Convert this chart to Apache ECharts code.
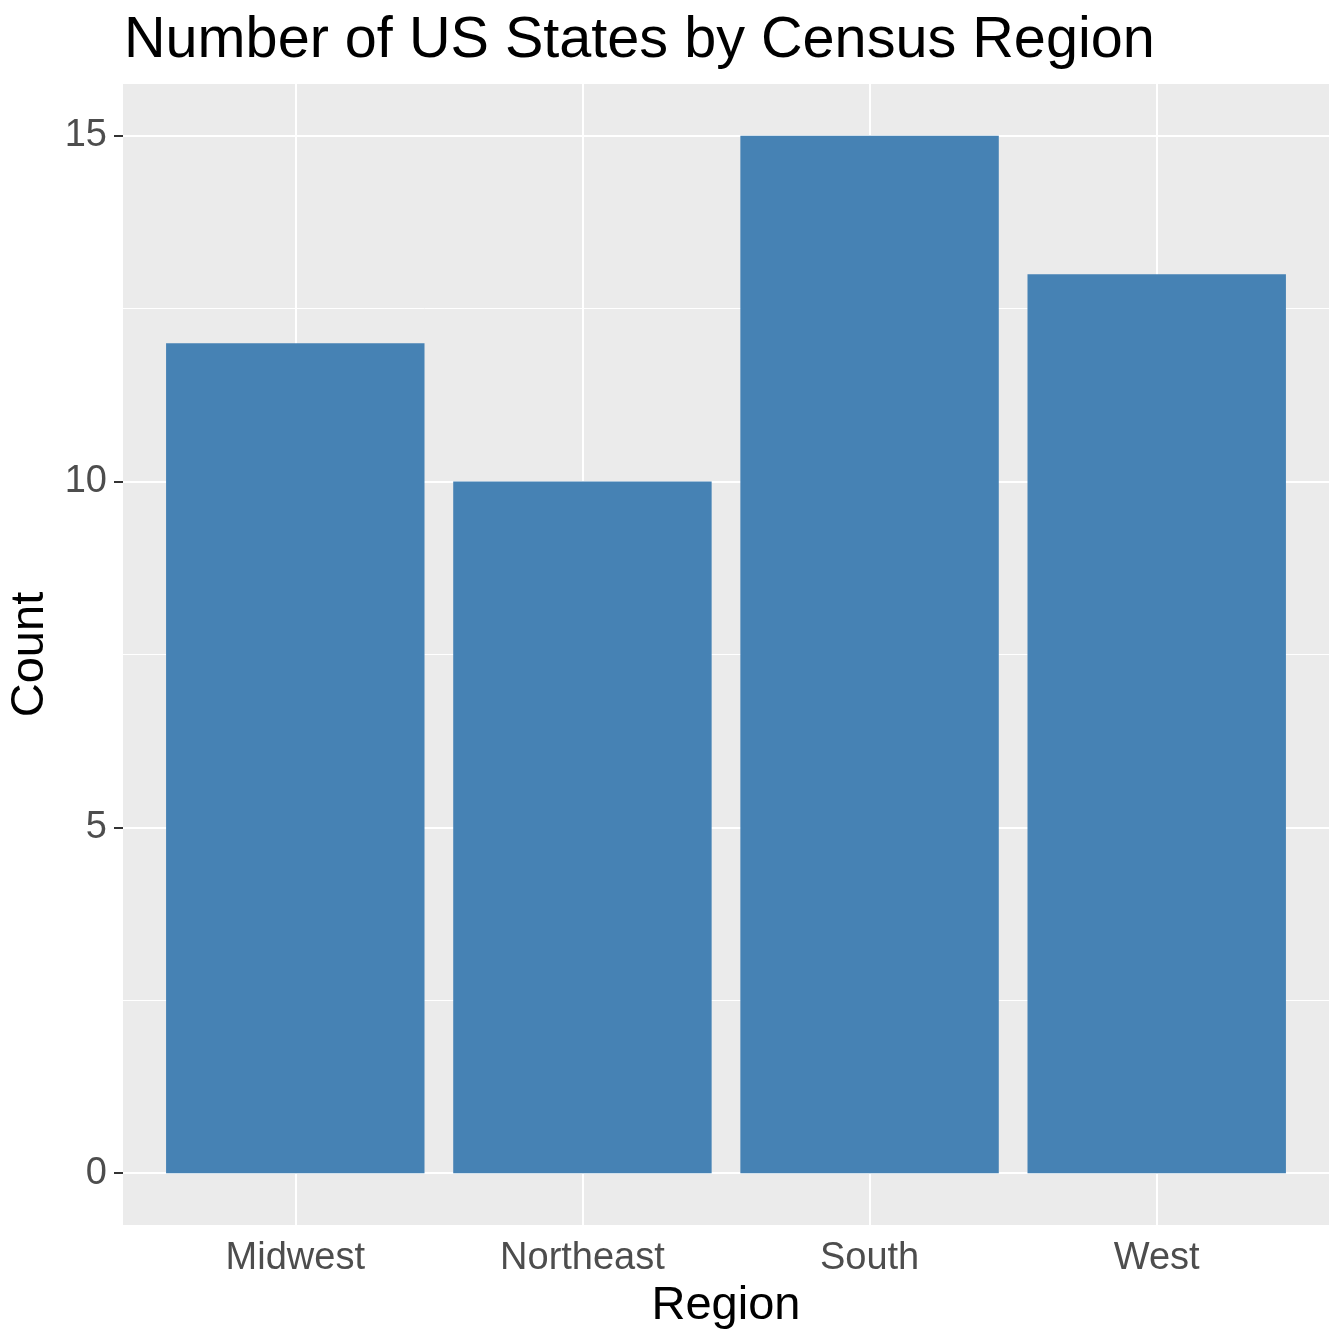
<!DOCTYPE html>
<html>
<head>
<meta charset="utf-8">
<title>Number of US States by Census Region</title>
<script src="https://cdn.jsdelivr.net/npm/echarts@6/dist/echarts.min.js"></script>
<style>
  html, body { margin: 0; padding: 0; background: #fff; }
  #main { width: 1344px; height: 1344px; }
</style>
</head>
<body>
<div id="main"></div>
<script>
// data
var regions = ['Midwest', 'Northeast', 'South', 'West'];
var stateCounts = [12, 10, 15, 13];
var yMajorTicks = [0, 5, 10, 15];
var yMinorTicks = [2.5, 7.5, 12.5];
var xTickPositions = [1, 2, 3, 4];

var dom = document.getElementById('main');
var myChart = echarts.init(dom);
var font = '"Liberation Sans", Arial, sans-serif';

var barData = [];
for (var i = 0; i < regions.length; i++) {
    barData.push([i + 1, stateCounts[i]]);
}

// grid lines, ggplot style: drawn as mark lines under the bars
var gridLines = [];
yMinorTicks.forEach(function (v) {
    gridLines.push({ yAxis: v, lineStyle: { width: 1 } });
});
yMajorTicks.forEach(function (v) {
    gridLines.push({ yAxis: v, lineStyle: { width: 2 } });
});
xTickPositions.forEach(function (v) {
    gridLines.push({ xAxis: v, lineStyle: { width: 2 } });
});

var option = {
    backgroundColor: '#ffffff',
    animation: false,
    title: {
        text: 'Number of US States by Census Region',
        left: 119,
        top: 7,
        textStyle: { fontFamily: font, fontSize: 57.6, fontWeight: 'normal', color: '#000' }
    },
    grid: {
        left: 123,
        right: 15,
        top: 84,
        bottom: 119,
        outerBoundsMode: 'none',
        containLabel: false,
        show: true,
        backgroundColor: '#EBEBEB',
        borderWidth: 0
    },
    xAxis: {
        type: 'value',
        min: 0.4,
        max: 4.6,
        name: 'Region',
        nameLocation: 'middle',
        nameGap: 58,
        nameTextStyle: { fontFamily: font, fontSize: 47, color: '#000' },
        axisLine: { show: false },
        axisTick: {
            show: true,
            length: 9,
            customValues: xTickPositions,
            lineStyle: { color: '#333', width: 2 }
        },
        axisLabel: {
            customValues: xTickPositions,
            margin: 15,
            fontFamily: font,
            fontSize: 38,
            color: '#4D4D4D',
            formatter: function (v) {
                return regions[Math.round(v) - 1] || '';
            }
        },
        splitLine: { show: false }
    },
    yAxis: {
        type: 'value',
        min: -0.75,
        max: 15.75,
        name: 'Count',
        nameLocation: 'middle',
        nameGap: 58,
        nameRotate: 90,
        nameTextStyle: { fontFamily: font, fontSize: 47, color: '#000' },
        axisLine: { show: false },
        axisTick: {
            show: true,
            length: 9,
            customValues: yMajorTicks,
            lineStyle: { color: '#333', width: 2 }
        },
        axisLabel: {
            customValues: yMajorTicks,
            margin: 16,
            fontFamily: font,
            fontSize: 38,
            color: '#4D4D4D'
        },
        splitLine: { show: false }
    },
    series: [
        {
            type: 'line',
            data: [],
            silent: true,
            z: 1,
            markLine: {
                silent: true,
                z: 1,
                symbol: 'none',
                label: { show: false },
                lineStyle: { color: '#ffffff', type: 'solid' },
                data: gridLines
            }
        },
        {
            type: 'custom',
            z: 10,
            data: barData,
            renderItem: function (params, api) {
                var x = api.value(0);
                var y = api.value(1);
                var topLeft = api.coord([x - 0.45, y]);
                var bottomRight = api.coord([x + 0.45, 0]);
                return {
                    type: 'rect',
                    shape: {
                        x: topLeft[0],
                        y: topLeft[1],
                        width: bottomRight[0] - topLeft[0],
                        height: bottomRight[1] - topLeft[1]
                    },
                    style: { fill: '#4682B4' }
                };
            }
        }
    ]
};

if (option && typeof option === 'object') {
    myChart.setOption(option, true);
}
</script>
</body>
</html>
